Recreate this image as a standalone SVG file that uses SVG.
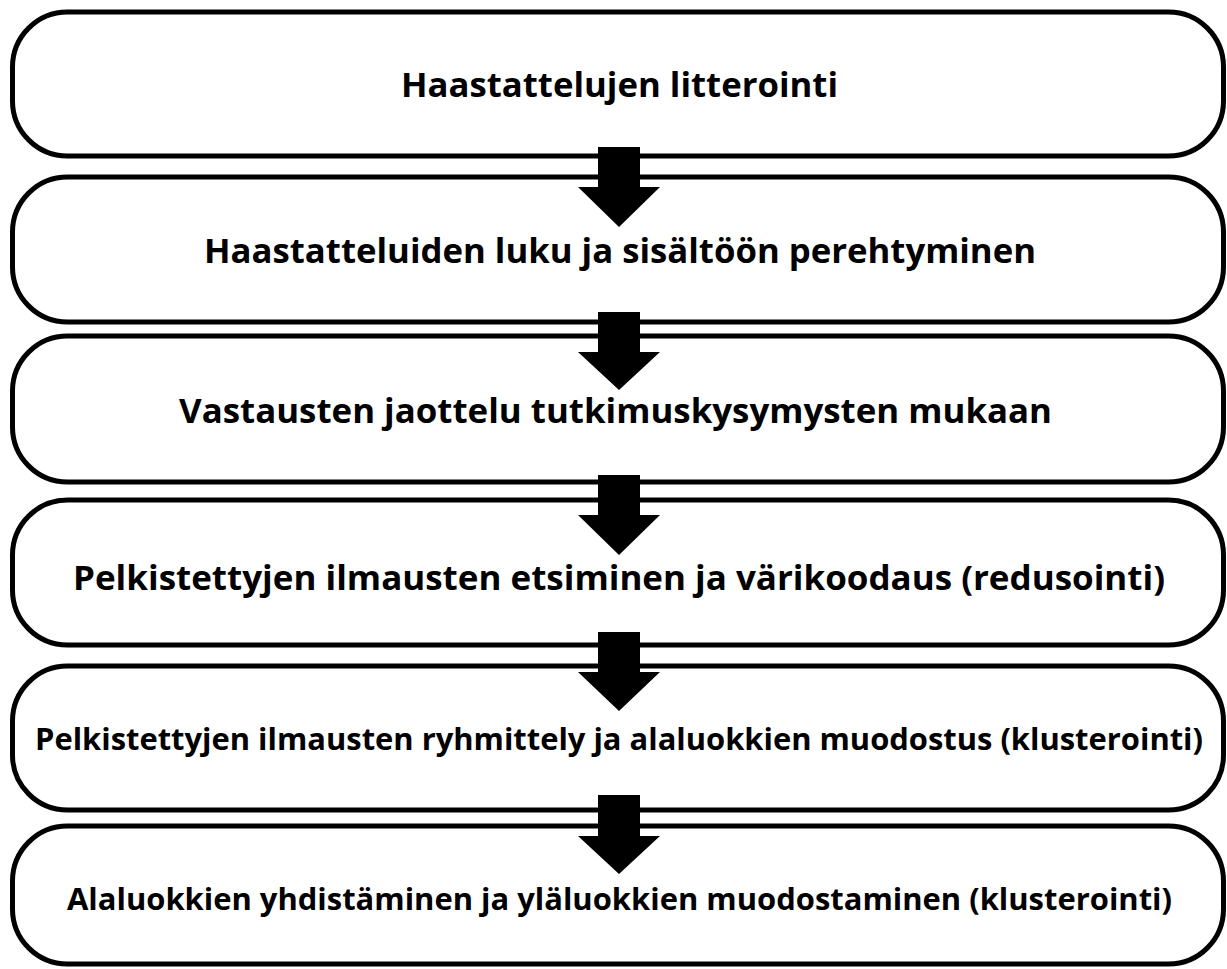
<svg xmlns="http://www.w3.org/2000/svg" width="1227" height="969" viewBox="0 0 1227 969">
<style>
.box{fill:#fff;stroke:#000;stroke-width:5}
.lbl{font-family:"Open Sans","Noto Sans",sans-serif;font-weight:bold;font-size:34.5px;fill:#000;text-anchor:middle}
.sm{font-size:31px}
.arr{fill:#000;stroke:none}
</style>
<rect width="1227" height="969" fill="#fff"/>
<g id="n1"><rect class="box" x="12.5" y="12" width="1211" height="144" rx="55"/><text class="lbl" x="619.5" y="97" textLength="437" lengthAdjust="spacingAndGlyphs">Haastattelujen litterointi</text></g>
<g id="n2"><rect class="box" x="12.5" y="177" width="1211" height="145" rx="55"/><text class="lbl" x="620" y="263" textLength="832" lengthAdjust="spacingAndGlyphs">Haastatteluiden luku ja sisältöön perehtyminen</text></g>
<g id="n3"><rect class="box" x="12.5" y="336" width="1211" height="146" rx="55"/><text class="lbl" x="615.5" y="423" textLength="873" lengthAdjust="spacingAndGlyphs">Vastausten jaottelu tutkimuskysymysten mukaan</text></g>
<g id="n4"><rect class="box" x="12.5" y="500" width="1211" height="145" rx="55"/><text class="lbl" x="619" y="590" textLength="1092" lengthAdjust="spacingAndGlyphs">Pelkistettyjen ilmausten etsiminen ja värikoodaus (redusointi)</text></g>
<g id="n5"><rect class="box" x="12.5" y="666" width="1211" height="144" rx="55"/><text class="lbl sm" x="619" y="750" textLength="1168" lengthAdjust="spacingAndGlyphs">Pelkistettyjen ilmausten ryhmittely ja alaluokkien muodostus (klusterointi)</text></g>
<g id="n6"><rect class="box" x="12.5" y="826" width="1211" height="138" rx="55"/><text class="lbl sm" x="619.5" y="910" textLength="1105" lengthAdjust="spacingAndGlyphs">Alaluokkien yhdistäminen ja yläluokkien muodostaminen (klusterointi)</text></g>
<g id="connectors">
<polygon class="arr" points="598,147 640,147 640,187 660,187 619,227 578,187 598,187"/>
<polygon class="arr" points="598,312 640,312 640,352 660,352 619,390 578,352 598,352"/>
<polygon class="arr" points="598,475 640,475 640,515 660,515 619,555 578,515 598,515"/>
<polygon class="arr" points="598,632 640,632 640,672 660,672 619,711 578,672 598,672"/>
<polygon class="arr" points="598,795 640,795 640,836 660,836 619,874 578,836 598,836"/>
</g>
</svg>
